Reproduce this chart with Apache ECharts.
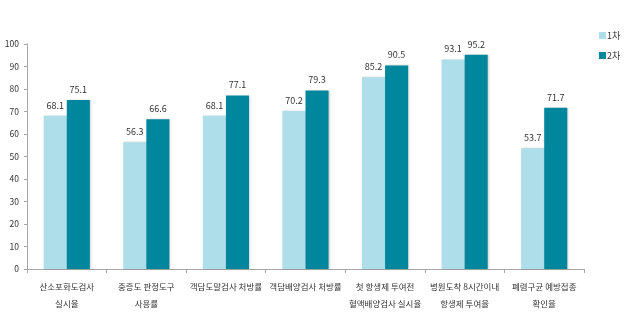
<!DOCTYPE html>
<html>
<head>
<meta charset="utf-8">
<script src="https://cdn.jsdelivr.net/npm/echarts@6/dist/echarts.min.js"></script>
<style>
  html, body { margin: 0; padding: 0; background: #fff; }
  #chart { width: 642px; height: 328px; }
</style>
</head>
<body>
<div id="chart"></div>
<script>
// Categories (measured indicators) and the two assessment rounds
const categories = [
  '산소포화도검사\n실시율',
  '중증도 판정도구\n사용률',
  '객담도말검사 처방률',
  '객담배양검사 처방률',
  '첫 항생제 투여전\n혈액배양검사 실시율',
  '병원도착 8시간이내\n항생제 투여율',
  '폐렴구균 예방접종\n확인율'
];
const round1 = [68.1, 56.3, 68.1, 70.2, 85.2, 93.1, 53.7];
const round2 = [75.1, 66.6, 77.1, 79.3, 90.5, 95.2, 71.7];
const seriesNames = ['1차', '2차'];

const FONT = '"Noto Sans CJK KR", "Noto Sans", sans-serif';
const axisColor = '#a6a6a6';
const textColor = '#333';

const chart = echarts.init(document.getElementById('chart'));

const barLabel = {
  show: true,
  position: 'top',
  distance: 6,
  fontFamily: FONT,
  fontSize: 9,
  color: textColor,
  formatter: p => p.value.toFixed(1)
};

chart.setOption({
  animation: false,
  backgroundColor: '#fff',
  grid: { left: 27, right: 58, top: 44, bottom: 59, containLabel: false },
  legend: {
    orient: 'vertical',
    left: 594,
    top: 26,
    itemWidth: 7,
    itemHeight: 7,
    itemGap: 11,
    icon: 'rect',
    textStyle: { fontFamily: FONT, fontSize: 9, color: textColor, padding: [0, 0, 0, -4] },
    data: seriesNames
  },
  xAxis: {
    type: 'category',
    data: categories,
    axisLine: { lineStyle: { color: axisColor, width: 1 } },
    axisTick: { show: true, length: 4, lineStyle: { color: axisColor } },
    axisLabel: {
      interval: 0,
      margin: 9,
      fontFamily: FONT,
      fontSize: 8.5,
      lineHeight: 17,
      color: textColor
    }
  },
  yAxis: {
    type: 'value',
    min: 0,
    max: 100,
    interval: 10,
    splitLine: { show: false },
    axisLine: { show: true, lineStyle: { color: axisColor, width: 1 } },
    axisTick: { show: true, length: 3, lineStyle: { color: axisColor } },
    axisLabel: { margin: 8, fontFamily: FONT, fontSize: 8.5, color: textColor }
  },
  series: [
    {
      name: seriesNames[0],
      type: 'bar',
      data: round1,
      barGap: '0%',
      barCategoryGap: '42%',
      itemStyle: {
        color: '#addeea',
        shadowColor: 'rgba(0,0,0,0.18)',
        shadowBlur: 2,
        shadowOffsetX: 1,
        shadowOffsetY: 0
      },
      label: barLabel
    },
    {
      name: seriesNames[1],
      type: 'bar',
      data: round2,
      barGap: '0%',
      barCategoryGap: '42%',
      itemStyle: {
        color: '#00879d',
        shadowColor: 'rgba(0,0,0,0.18)',
        shadowBlur: 2,
        shadowOffsetX: 1,
        shadowOffsetY: 0
      },
      label: barLabel
    }
  ]
});
</script>
</body>
</html>
